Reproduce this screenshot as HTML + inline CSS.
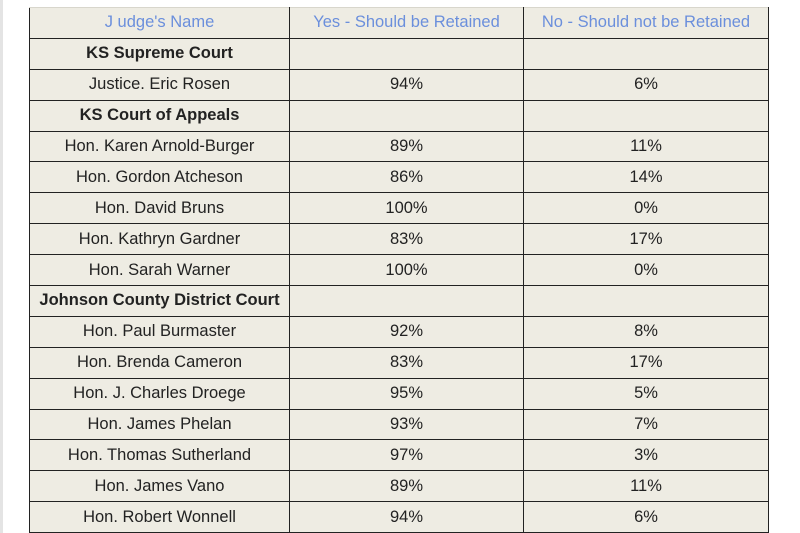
<!DOCTYPE html>
<html><head><style>
html,body{margin:0;padding:0;background:#fff;width:800px;height:533px;overflow:hidden;}
.strip{position:absolute;left:0;top:0;width:3px;height:533px;background:#e4e4e4;}
table{position:absolute;left:29px;top:7px;border-collapse:collapse;background:#eeece3;font-family:"Liberation Sans",sans-serif;font-size:16.5px;color:#222;}
td{border:1.5px solid #222;height:29.9px;padding:0;text-align:center;}
tr:first-child td{border-top:1px solid #d8d6cc;color:#6b8fdc;}
td.a{width:259px}td.b{width:233px}td.c{width:244px}
.h{font-weight:bold;}
</style></head><body>
<div class="strip"></div>
<table>
<tr><td class="a">J udge's Name</td><td class="b">Yes - Should be Retained</td><td class="c">No - Should not be Retained</td></tr>
<tr><td class="h">KS Supreme Court</td><td></td><td></td></tr>
<tr><td>Justice. Eric Rosen</td><td>94%</td><td>6%</td></tr>
<tr><td class="h">KS Court of Appeals</td><td></td><td></td></tr>
<tr><td>Hon. Karen Arnold-Burger</td><td>89%</td><td>11%</td></tr>
<tr><td>Hon. Gordon Atcheson</td><td>86%</td><td>14%</td></tr>
<tr><td>Hon. David Bruns</td><td>100%</td><td>0%</td></tr>
<tr><td>Hon. Kathryn Gardner</td><td>83%</td><td>17%</td></tr>
<tr><td>Hon. Sarah Warner</td><td>100%</td><td>0%</td></tr>
<tr><td class="h">Johnson County District Court</td><td></td><td></td></tr>
<tr><td>Hon. Paul Burmaster</td><td>92%</td><td>8%</td></tr>
<tr><td>Hon. Brenda Cameron</td><td>83%</td><td>17%</td></tr>
<tr><td>Hon. J. Charles Droege</td><td>95%</td><td>5%</td></tr>
<tr><td>Hon. James Phelan</td><td>93%</td><td>7%</td></tr>
<tr><td>Hon. Thomas Sutherland</td><td>97%</td><td>3%</td></tr>
<tr><td>Hon. James Vano</td><td>89%</td><td>11%</td></tr>
<tr><td>Hon. Robert Wonnell</td><td>94%</td><td>6%</td></tr>
</table>
</body></html>
